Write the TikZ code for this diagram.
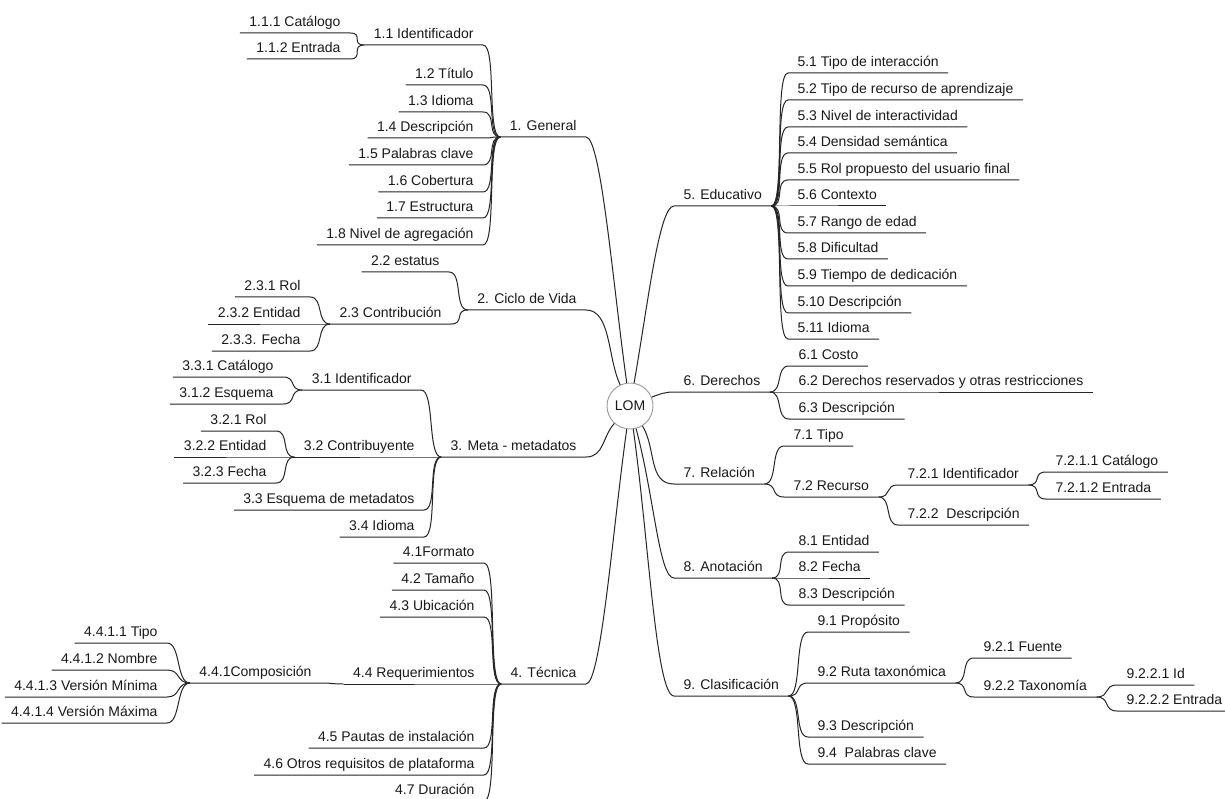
\documentclass[tikz,border=0pt]{standalone}
\usepackage{fontspec}
\setmainfont{Liberation Sans}
\tikzset{
  topic/.style={inner xsep=9pt, inner ysep=3pt, text depth=3pt, text=black!90,
    font=\fontsize{14pt}{16pt}\selectfont},
  lnode/.style={topic, anchor=south east},
  rnode/.style={topic, anchor=south west},
  root/.style={circle, draw=black!40, line width=0.9pt, minimum size=46pt,
    inner sep=0pt, text=black!90, font=\fontsize{14pt}{16pt}\selectfont},
  twig/.style={out=0, in=180, out distance=14pt, in distance=14pt}
}
\begin{document}
\begin{tikzpicture}[x=1pt, y=1pt, line width=1pt, color=black!85]
\fill[white] (0,0) rectangle (1225,-799);
\useasboundingbox (0,0) rectangle (1225,-799);

\node[root] (lom) at (630,-406) {LOM};

% 1. General
\node[lnode] (gen) at (586,-137) {1. General};
\node[lnode] (g11) at (483,-45) {1.1 Identificador};
\node[lnode] (g111) at (350,-33) {1.1.1 Catálogo};
\node[lnode] (g112) at (350,-59) {1.1.2 Entrada};
\node[lnode] (g12) at (483,-85) {1.2 Título};
\node[lnode] (g13) at (483,-112) {1.3 Idioma};
\node[lnode] (g14) at (483,-138) {1.4 Descripción};
\node[lnode] (g15) at (483,-165) {1.5 Palabras clave};
\node[lnode] (g16) at (483,-192) {1.6 Cobertura};
\node[lnode] (g17) at (483,-218) {1.7 Estructura};
\node[lnode] (g18) at (483,-245) {1.8 Nivel de agregación};

% 2. Ciclo de Vida
\node[lnode] (cic) at (586,-310) {2. Ciclo de Vida};
\node[lnode] (c22) at (449,-272) {2.2 estatus};
\node[lnode] (c23) at (451,-324) {2.3 Contribución};
\node[lnode] (c231) at (310,-297) {2.3.1 Rol};
\node[lnode] (c232) at (310,-324) {2.3.2 Entidad};
\node[lnode] (c233) at (310,-351) {2.3.3. Fecha};

% 3. Meta - metadatos
\node[lnode] (met) at (586,-457) {3. Meta - metadatos};
\node[lnode] (m31) at (421,-390) {3.1 Identificador};
\node[lnode] (m311) at (283,-377) {3.3.1 Catálogo};
\node[lnode] (m312) at (283,-404) {3.1.2 Esquema};
\node[lnode] (m32) at (424,-457) {3.2 Contribuyente};
\node[lnode] (m321) at (276,-431) {3.2.1 Rol};
\node[lnode] (m322) at (276,-457) {3.2.2 Entidad};
\node[lnode] (m323) at (276,-483) {3.2.3 Fecha};
\node[lnode] (m33) at (424,-510) {3.3 Esquema de metadatos};
\node[lnode] (m34) at (424,-537) {3.4 Idioma};

% 4. Tecnica
\node[lnode] (tec) at (586,-684) {4. Técnica};
\node[lnode] (t41) at (484,-563) {4.1Formato};
\node[lnode] (t42) at (484,-590) {4.2 Tamaño};
\node[lnode] (t43) at (484,-617) {4.3 Ubicación};
\node[lnode] (t44) at (484,-684) {4.4 Requerimientos};
\node[lnode] (t441) at (321,-683) {4.4.1Composición};
\node[lnode] (t4411) at (167,-643) {4.4.1.1 Tipo};
\node[lnode] (t4412) at (167,-670) {4.4.1.2 Nombre};
\node[lnode] (t4413) at (167,-697) {4.4.1.3 Versión Mínima};
\node[lnode] (t4414) at (167,-723) {4.4.1.4 Versión Máxima};
\node[lnode] (t45) at (484,-748) {4.5 Pautas de instalación};
\node[lnode] (t46) at (484,-775) {4.6 Otros requisitos de plataforma};
\node[lnode] (t47) at (484,-801) {4.7 Duración};

% 5. Educativo
\node[rnode] (edu) at (674,-206) {5. Educativo};
\node[rnode] (e51) at (788,-73) {5.1 Tipo de interacción};
\node[rnode] (e52) at (788,-100) {5.2 Tipo de recurso de aprendizaje};
\node[rnode] (e53) at (788,-127) {5.3 Nivel de interactividad};
\node[rnode] (e54) at (788,-153) {5.4 Densidad semántica};
\node[rnode] (e55) at (788,-180) {5.5 Rol propuesto del usuario final};
\node[rnode] (e56) at (788,-206) {5.6 Contexto};
\node[rnode] (e57) at (788,-233) {5.7 Rango de edad};
\node[rnode] (e58) at (788,-259) {5.8 Dificultad};
\node[rnode] (e59) at (788,-286) {5.9 Tiempo de dedicación};
\node[rnode] (e510) at (788,-313) {5.10 Descripción};
\node[rnode] (e511) at (788,-339) {5.11 Idioma};

% 6. Derechos
\node[rnode] (der) at (674,-392) {6. Derechos};
\node[rnode] (d61) at (789,-366) {6.1 Costo};
\node[rnode] (d62) at (789,-392) {6.2 Derechos reservados y otras restricciones};
\node[rnode] (d63) at (789,-419) {6.3 Descripción};

% 7. Relacion
\node[rnode] (rel) at (674,-484) {7. Relación};
\node[rnode] (r71) at (784,-446) {7.1 Tipo};
\node[rnode] (r72) at (784,-497) {7.2 Recurso};
\node[rnode] (r721) at (898,-485) {7.2.1 Identificador};
\node[rnode] (r7211) at (1046,-472) {7.2.1.1 Catálogo};
\node[rnode] (r7212) at (1046,-499) {7.2.1.2 Entrada};
\node[rnode] (r722) at (898,-525) {7.2.2\ \ Descripción};

% 8. Anotacion
\node[rnode] (ano) at (674,-578) {8. Anotación};
\node[rnode] (a81) at (789,-552) {8.1 Entidad};
\node[rnode] (a82) at (789,-578) {8.2 Fecha};
\node[rnode] (a83) at (789,-605) {8.3 Descripción};

% 9. Clasificacion
\node[rnode] (cla) at (674,-696) {9. Clasificación};
\node[rnode] (k91) at (808,-632) {9.1 Propósito};
\node[rnode] (k92) at (808,-683) {9.2 Ruta taxonómica};
\node[rnode] (k921) at (974,-658) {9.2.1 Fuente};
\node[rnode] (k922) at (974,-697) {9.2.2 Taxonomía};
\node[rnode] (k9221) at (1117,-685) {9.2.2.1 Id};
\node[rnode] (k9222) at (1117,-711) {9.2.2.2 Entrada};
\node[rnode] (k93) at (808,-737) {9.3 Descripción};
\node[rnode] (k94) at (808,-764) {9.4\ \ Palabras clave};

% branches to the root
\draw (gen.south west) -- (gen.south east) to[out=0, in=98, out distance=15pt, in distance=100pt] (lom);
\draw (cic.south west) -- (cic.south east) to[out=0, in=115, out distance=25pt, in distance=30pt] (lom);
\draw (met.south west) -- (met.south east) to[out=0, in=228, out distance=18pt, in distance=18pt] (lom);
\draw (tec.south west) -- (tec.south east) to[out=0, in=262, out distance=15pt, in distance=100pt] (lom);
\draw (lom) to[out=80, in=180, out distance=80pt, in distance=15pt] (edu.south west) -- (edu.south east);
\draw (lom) to[out=22, in=180] (der.south west) -- (der.south east);
\draw (lom) to[out=302, in=180] (rel.south west) -- (rel.south east);
\draw (lom) to[out=285, in=180, out distance=70pt, in distance=15pt] (ano.south west) -- (ano.south east);
\draw (lom) to[out=278, in=180, out distance=110pt, in distance=18pt] (cla.south west) -- (cla.south east);

% left side: child/parent
\foreach \c/\p in {g11/gen, g12/gen, g13/gen, g14/gen, g15/gen, g16/gen, g17/gen, g18/gen,
    g111/g11, g112/g11, c22/cic, c23/cic, c231/c23, c232/c23, c233/c23,
    m31/met, m32/met, m33/met, m34/met, m311/m31, m312/m31, m321/m32, m322/m32, m323/m32,
    t41/tec, t42/tec, t43/tec, t44/tec, t45/tec, t46/tec, t47/tec, t441/t44,
    t4411/t441, t4412/t441, t4413/t441, t4414/t441}
  \draw (\c.south west) -- (\c.south east) to[twig] (\p.south west);

% right side: parent/child
\foreach \p/\c in {edu/e51, edu/e52, edu/e53, edu/e54, edu/e55, edu/e56, edu/e57, edu/e58,
    edu/e59, edu/e510, edu/e511, der/d61, der/d62, der/d63,
    rel/r71, rel/r72, r72/r721, r72/r722, r721/r7211, r721/r7212,
    ano/a81, ano/a82, ano/a83, cla/k91, cla/k92, cla/k93, cla/k94,
    k92/k921, k92/k922, k922/k9221, k922/k9222}
  \draw (\p.south east) to[twig] (\c.south west) -- (\c.south east);
\end{tikzpicture}
\end{document}
